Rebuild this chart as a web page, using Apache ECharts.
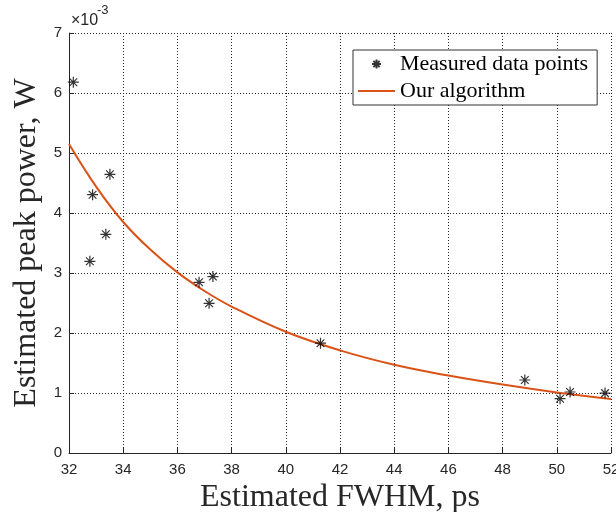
<!DOCTYPE html>
<html>
<head>
<meta charset="utf-8">
<script src="https://cdn.jsdelivr.net/npm/echarts@6/dist/echarts.min.js"></script>
<style>
  html, body { margin: 0; padding: 0; background: #fff; }
  #chart { width: 616px; height: 512px; }
</style>
</head>
<body>
<div id="chart"></div>
<script>
// measured points (FWHM in ps, peak power in 1e-3 W)
var measuredFwhm  = [32.16, 33.51, 32.87, 33.36, 32.77, 36.80, 37.31, 37.17, 41.28, 48.82, 50.12, 50.49, 51.78];
var measuredPower = [6.18, 4.645, 4.305, 3.645, 3.195, 2.845, 2.94, 2.495, 1.83, 1.217, 0.905, 1.017, 0.998];

// fitted curve
var curveFwhm  = [32, 33, 34, 35, 36, 37, 38, 40, 42, 44, 46, 48, 50, 52];
var curvePower = [5.15, 4.44, 3.85, 3.39, 3.01, 2.70, 2.44, 2.02, 1.71, 1.47, 1.29, 1.14, 1.01, 0.90];

var xTicks = { min: 32, max: 52, step: 2 };
var yTicks = { min: 0, max: 7, step: 1 };

var seriesNames = ['Measured data points', 'Our algorithm'];

var starPath = 'path://M0,-10L0,10M-10,0L10,0M-7,-7L7,7M-7,7L7,-7';
var barPath = 'path://M0,0L38,0L38,2L0,2Z';

var measured = measuredFwhm.map(function (x, i) { return [x, measuredPower[i]]; });
var curve = curveFwhm.map(function (x, i) { return [x, curvePower[i]]; });

var chart = echarts.init(document.getElementById('chart'), null, { renderer: 'canvas' });

var serif = '"Liberation Serif", "DejaVu Serif", serif';
var sans = '"Liberation Sans", Arial, sans-serif';
var ink = '#262626';
var orange = '#D95319';

chart.setOption({
    animation: false,
    backgroundColor: '#fff',
    grid: { left: 69, right: 5, top: 33, bottom: 59, containLabel: false, outerBoundsMode: 'none' },
    xAxis: {
        type: 'value',
        min: xTicks.min,
        max: xTicks.max,
        interval: xTicks.step,
        name: 'Estimated FWHM, ps',
        nameLocation: 'middle',
        nameGap: 24,
        nameTextStyle: { color: ink, fontFamily: serif, fontSize: 32 },
        axisLine: { show: true, onZero: false, lineStyle: { color: ink, width: 1 } },
        axisTick: { show: true, inside: true, length: 5, lineStyle: { color: ink } },
        axisLabel: { color: ink, fontFamily: sans, fontSize: 15, margin: 9 },
        splitLine: { show: true, lineStyle: { color: ink, type: [1, 2], width: 1 } }
    },
    yAxis: {
        type: 'value',
        min: yTicks.min,
        max: yTicks.max,
        interval: yTicks.step,
        name: 'Estimated peak power, W',
        nameLocation: 'middle',
        nameGap: 18,
        nameRotate: 90,
        nameTextStyle: { color: ink, fontFamily: serif, fontSize: 32 },
        axisLine: { show: true, lineStyle: { color: ink, width: 1 } },
        axisTick: { show: true, inside: true, length: 5, lineStyle: { color: ink } },
        axisLabel: { color: ink, fontFamily: sans, fontSize: 15, margin: 7 },
        splitLine: { show: true, lineStyle: { color: ink, type: [1, 2], width: 1 } }
    },
    legend: {
        orient: 'vertical',
        left: 353,
        top: 50,
        padding: [3, 9, 3, 5],
        itemGap: 5,
        itemWidth: 37,
        itemHeight: 9,
        backgroundColor: '#fff',
        borderColor: '#333',
        borderWidth: 1,
        textStyle: { color: '#000', fontFamily: serif, fontSize: 22, lineHeight: 20 },
        data: [
            { name: seriesNames[0], icon: starPath },
            { name: seriesNames[1], icon: barPath }
        ]
    },
    graphic: [
        {
            type: 'text',
            x: 71,
            y: 21,
            style: { text: '×10', fill: ink, font: '16px ' + sans, verticalAlign: 'middle' }
        },
        {
            type: 'text',
            x: 97,
            y: 10,
            style: { text: '-3', fill: ink, font: '13px ' + sans, verticalAlign: 'middle' }
        }
    ],
    series: [
        {
            name: seriesNames[0],
            type: 'scatter',
            symbol: starPath,
            symbolSize: 11,
            symbolKeepAspect: true,
            itemStyle: { color: '#000', borderColor: '#000', borderWidth: 1.2 },
            data: measured,
            z: 3
        },
        {
            name: seriesNames[1],
            type: 'line',
            smooth: 0.4,
            symbol: 'none',
            showSymbol: false,
            lineStyle: { color: orange, width: 2 },
            itemStyle: { color: orange },
            data: curve,
            z: 2
        }
    ]
});
</script>
</body>
</html>
